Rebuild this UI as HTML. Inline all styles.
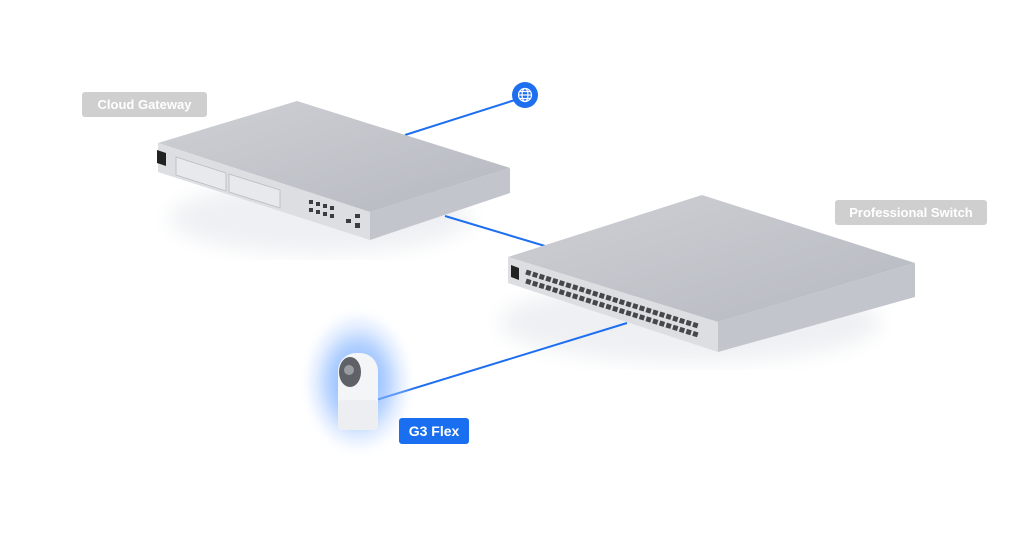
<!DOCTYPE html>
<html><head><meta charset="utf-8"><style>
html,body{margin:0;padding:0;background:#fff;}
body{width:1024px;height:544px;overflow:hidden;position:relative;font-family:"Liberation Sans",sans-serif;}
.lbl{position:absolute;color:#fff;font-size:13px;font-weight:bold;border-radius:3px;display:flex;align-items:center;justify-content:center;}
</style></head><body>
<svg width="1024" height="544" style="position:absolute;left:0;top:0">
<defs>
<radialGradient id="glow" cx="50%" cy="50%" r="50%">
<stop offset="0" stop-color="#5f9fff" stop-opacity="0.95"/>
<stop offset="0.55" stop-color="#8ab8ff" stop-opacity="0.6"/>
<stop offset="0.85" stop-color="#cfe1ff" stop-opacity="0.3"/>
<stop offset="1" stop-color="#eef4ff" stop-opacity="0"/>
</radialGradient>
<filter id="blur"><feGaussianBlur stdDeviation="10"/></filter>
<filter id="blur2"><feGaussianBlur stdDeviation="4"/></filter>
<linearGradient id="top1" x1="0" y1="0" x2="1" y2="1"><stop offset="0" stop-color="#ced0d5"/><stop offset="1" stop-color="#b6b9c0"/></linearGradient>
</defs>
<ellipse cx="320" cy="218" rx="150" ry="35" fill="#eef0f3" filter="url(#blur)"/>
<ellipse cx="690" cy="322" rx="190" ry="40" fill="#eef0f3" filter="url(#blur)"/>
<line x1="405" y1="135" x2="515" y2="100" stroke="#1e6ff0" stroke-width="2"/>
<line x1="445" y1="216" x2="545" y2="246" stroke="#1e6ff0" stroke-width="2"/>
<line x1="627" y1="323" x2="376" y2="400" stroke="#1e6ff0" stroke-width="2"/>
<circle cx="525" cy="95" r="13" fill="#1e6ff0"/>
<g stroke="#fff" stroke-width="1.2" fill="none"><circle cx="525" cy="95" r="6.5"/><ellipse cx="525" cy="95" rx="3" ry="6.5"/><line x1="518.5" y1="95" x2="531.5" y2="95"/><line x1="520" y1="91.5" x2="530" y2="91.5"/><line x1="520" y1="98.5" x2="530" y2="98.5"/></g>
<!-- gateway -->
<polygon points="158,143 297,101 510,168 370,212" fill="url(#top1)"/>
<polygon points="158,143 370,212 370,240 158,172" fill="#dcdee2"/>
<polygon points="370,212 510,168 510,193 370,240" fill="#c2c5cb"/>
<polygon points="157,150 166,153 166,166 157,163" fill="#222"/>
<polygon points="176,157 226,173 226,191 176,175" fill="#e8e9ec" stroke="#b8bbc1" stroke-width="0.8"/>
<polygon points="229,174 280,190 280,208 229,192" fill="#e8e9ec" stroke="#b8bbc1" stroke-width="0.8"/>
<g fill="#3a3c40">
<rect x="309" y="200" width="4" height="4"/><rect x="316" y="202" width="4" height="4"/><rect x="323" y="204" width="4" height="4"/><rect x="330" y="206" width="4" height="4"/>
<rect x="309" y="208" width="4" height="4"/><rect x="316" y="210" width="4" height="4"/><rect x="323" y="212" width="4" height="4"/><rect x="330" y="214" width="4" height="4"/>
<rect x="346" y="219" width="5" height="4"/><rect x="355" y="214" width="5" height="4"/><rect x="355" y="223" width="5" height="5"/>
</g>
<!-- switch -->
<polygon points="508,257 702,195 915,263 718,322" fill="url(#top1)"/>
<polygon points="508,257 718,322 718,352 508,283" fill="#dcdee2"/>
<polygon points="718,322 915,263 915,297 718,352" fill="#c2c5cb"/>
<polygon points="511,265 519,268 519,280 511,277" fill="#222"/>
<g stroke="#45474c" stroke-width="5" stroke-dasharray="5,2">
<line x1="526" y1="272" x2="698" y2="326"/>
<line x1="526" y1="281" x2="698" y2="335"/>
</g>
<!-- camera -->
<ellipse cx="358" cy="382" rx="56" ry="74" fill="url(#glow)" filter="url(#blur2)"/>
<rect x="338" y="353" width="40" height="77" rx="18" fill="#f4f5f7"/>
<rect x="338" y="400" width="40" height="30" rx="4" fill="#eceef1"/>
<ellipse cx="350" cy="372" rx="11" ry="15" fill="#5e6168"/>
<circle cx="349" cy="370" r="5" fill="#9a9ca2"/>
</svg>
<div class="lbl" style="left:82px;top:92px;width:125px;height:25px;background:#cfcfcf;">Cloud Gateway</div>
<div class="lbl" style="left:835px;top:200px;width:152px;height:25px;background:#cfcfcf;">Professional Switch</div>
<div class="lbl" style="left:399px;top:418px;width:70px;height:26px;background:#1a6ff0;font-size:14px;">G3 Flex</div>
</body></html>
